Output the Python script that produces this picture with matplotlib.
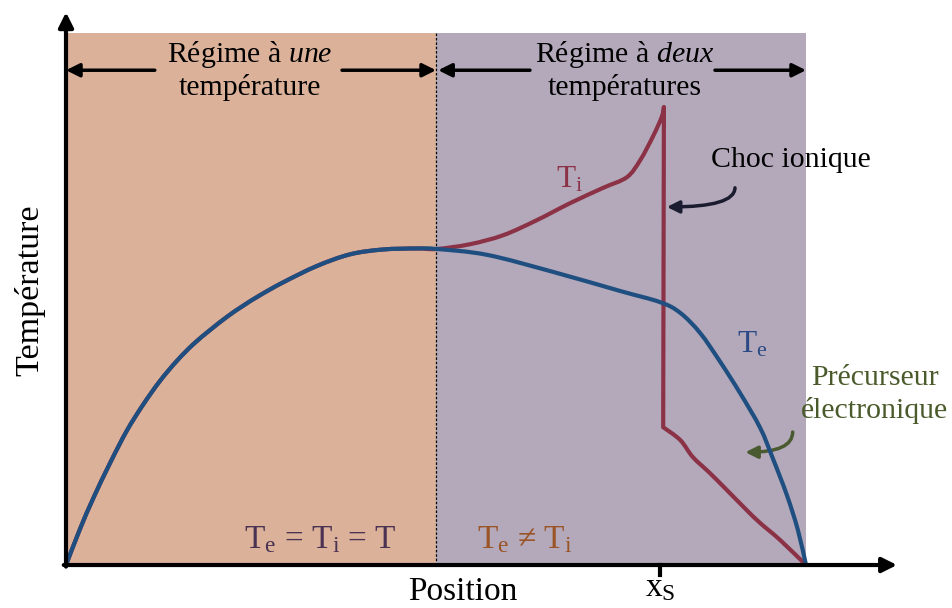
import matplotlib
matplotlib.use("Agg")
import numpy as np
import matplotlib.pyplot as plt
from matplotlib.patches import Rectangle, PathPatch
from matplotlib.path import Path

plt.rcParams['font.family'] = ['Liberation Serif', 'DejaVu Serif']
plt.rcParams['mathtext.fontset'] = 'custom'
plt.rcParams['mathtext.rm'] = 'Liberation Serif'
plt.rcParams['mathtext.it'] = 'Liberation Serif:italic'

# position (0 = origin, 1 = end of shaded zone), temperature (0..1)
te_x = [0, 0.019, 0.037, 0.060, 0.082, 0.104, 0.127, 0.150, 0.172, 0.195, 0.218, 0.239,
        0.262, 0.293, 0.339, 0.384, 0.428, 0.474, 0.501, 0.569, 0.658, 0.749, 0.803,
        0.830, 0.857, 0.884, 0.911, 0.938, 0.955, 0.974, 0.989, 1.0]
te_y = [0, 0.068, 0.126, 0.193, 0.252, 0.301, 0.346, 0.384, 0.415, 0.442, 0.467, 0.487,
        0.507, 0.531, 0.562, 0.584, 0.593, 0.595, 0.594, 0.583, 0.551, 0.515, 0.494,
        0.474, 0.436, 0.382, 0.323, 0.258, 0.201, 0.132, 0.066, 0]

# ion temperature: equal to Te up to the split, then rise to the ion shock
ti_rise_x = te_x[:19] + [0.546, 0.591, 0.636, 0.681, 0.726, 0.758, 0.776, 0.793, 0.805, 0.808]
ti_rise_y = te_y[:19] + [0.603, 0.620, 0.648, 0.680, 0.709, 0.729, 0.761, 0.805, 0.842, 0.861]
# after the shock
ti_tail_x = [0.807, 0.830, 0.847, 0.870, 0.893, 0.920, 0.938, 0.965, 1.0]
ti_tail_y = [0.259, 0.235, 0.203, 0.173, 0.141, 0.103, 0.079, 0.047, 0]

x_split = 0.5
x_end = 1.0
x_shock = 0.803

c_left = '#dbb199'
c_right = '#b3a9ba'
c_te = '#1f4f80'
c_ti = '#8c3247'


def smooth(xs, ys, start=True):
    # catmull-rom through the points, drawn as cubic bezier pieces
    p = np.column_stack([xs, ys])
    n = len(p)
    verts = [p[0]]
    codes = [Path.MOVETO if start else Path.LINETO]
    for i in range(n - 1):
        p0 = p[i - 1] if i > 0 else p[i]
        p3 = p[i + 2] if i + 2 < n else p[i + 1]
        c1 = p[i] + (p[i + 1] - p0) / 6
        c2 = p[i + 1] - (p3 - p[i]) / 6
        verts += [c1, c2, p[i + 1]]
        codes += [Path.CURVE4] * 3
    return verts, codes


fig = plt.figure(figsize=(9.52, 6.08), dpi=100)
ax = fig.add_axes([0, 0, 1, 1])
ax.set_xlim(-0.0892, 1.1973)
ax.set_ylim(-0.0808, 1.062)
ax.axis('off')

ax.add_patch(Rectangle((0, 0), x_split, 1, facecolor=c_left, edgecolor='none', zorder=0))
ax.add_patch(Rectangle((x_split, 0), x_end - x_split, 1, facecolor=c_right, edgecolor='none', zorder=0))
ax.plot([x_split, x_split], [0, 1], color='black', lw=0.9, ls=(0, (2, 1.5)), zorder=1)

v1, k1 = smooth(ti_rise_x, ti_rise_y)
v2, k2 = smooth(ti_tail_x, ti_tail_y, start=False)
ax.add_patch(PathPatch(Path(v1 + v2, k1 + k2), facecolor='none', edgecolor=c_ti, lw=3,
                       joinstyle='round', capstyle='round', zorder=3))
v, k = smooth(te_x, te_y)
ax.add_patch(PathPatch(Path(v, k), facecolor='none', edgecolor=c_te, lw=3,
                       joinstyle='round', capstyle='round', zorder=4))

# axes with arrows
arr = dict(arrowstyle='-|>', lw=3, color='black', mutation_scale=22, shrinkA=0, shrinkB=0)
ax.annotate('', xy=(0, 1.039), xytext=(0, -0.003), arrowprops=arr, zorder=5)
ax.annotate('', xy=(1.123, 0), xytext=(-0.003, 0), arrowprops=arr, zorder=5)
ax.plot([x_shock, x_shock], [0, -0.019], color='black', lw=3, zorder=5)

# regime arrows
ra = dict(arrowstyle='-|>', lw=2.5, color='black', mutation_scale=20, shrinkA=0, shrinkB=0)
ya = 0.930
for a, b in [(0.120, 0.0), (0.373, 0.5), (0.627, 0.503), (0.877, 1.0)]:
    ax.annotate('', xy=(b, ya), xytext=(a, ya), arrowprops=ra, zorder=5)

ax.text(0.249, 0.959, r'Régime à $\mathit{une}$', ha='center', va='center', fontsize=21.5)
ax.text(0.249, 0.897, 'température', ha='center', va='center', fontsize=21.5)
ax.text(0.755, 0.959, r'Régime à $\mathit{deux}$', ha='center', va='center', fontsize=21.5)
ax.text(0.755, 0.897, 'températures', ha='center', va='center', fontsize=21.5)

ax.text(0.343, 0.047, r'T$_\mathrm{e}$ = T$_\mathrm{i}$ = T', ha='center', va='center',
        fontsize=24, color='#4a3352')
ax.text(0.620, 0.047, r'T$_\mathrm{e}$ ≠ T$_\mathrm{i}$', ha='center', va='center',
        fontsize=24, color='#9a5426')

ax.text(0.536, -0.051, 'Position', ha='center', va='center', fontsize=24)
ax.text(x_shock, -0.043, r'x$_\mathrm{S}$', ha='center', va='center', fontsize=24)
ax.text(-0.049, 0.517, 'Température', ha='center', va='center', fontsize=24.5, rotation=90)

ax.text(0.681, 0.724, r'T$_\mathrm{i}$', ha='center', va='center', fontsize=22.5, color=c_ti)
ax.text(0.927, 0.414, r'T$_\mathrm{e}$', ha='center', va='center', fontsize=22.5, color='#2b4a85')

ax.text(0.872, 0.761, 'Choc ionique', ha='left', va='center', fontsize=21.5)
ax.annotate('', xy=(0.812, 0.673), xytext=(0.904, 0.709),
            arrowprops=dict(arrowstyle='-|>', lw=2.5, color='#1c1c30', mutation_scale=18,
                            shrinkA=0, shrinkB=0,
                            connectionstyle='angle3,angleA=90,angleB=0'))

ax.text(1.093, 0.352, 'Précurseur', ha='center', va='center', fontsize=21.5, color='#4a5a2a')
ax.text(1.093, 0.291, 'électronique', ha='center', va='center', fontsize=21.5, color='#4a5a2a')
ax.annotate('', xy=(0.918, 0.212), xytext=(0.982, 0.250),
            arrowprops=dict(arrowstyle='-|>', lw=2.5, color='#4a5a30', mutation_scale=18,
                            shrinkA=0, shrinkB=0,
                            connectionstyle='angle3,angleA=90,angleB=0'))

fig.savefig('out.png', dpi=100, facecolor='white')
